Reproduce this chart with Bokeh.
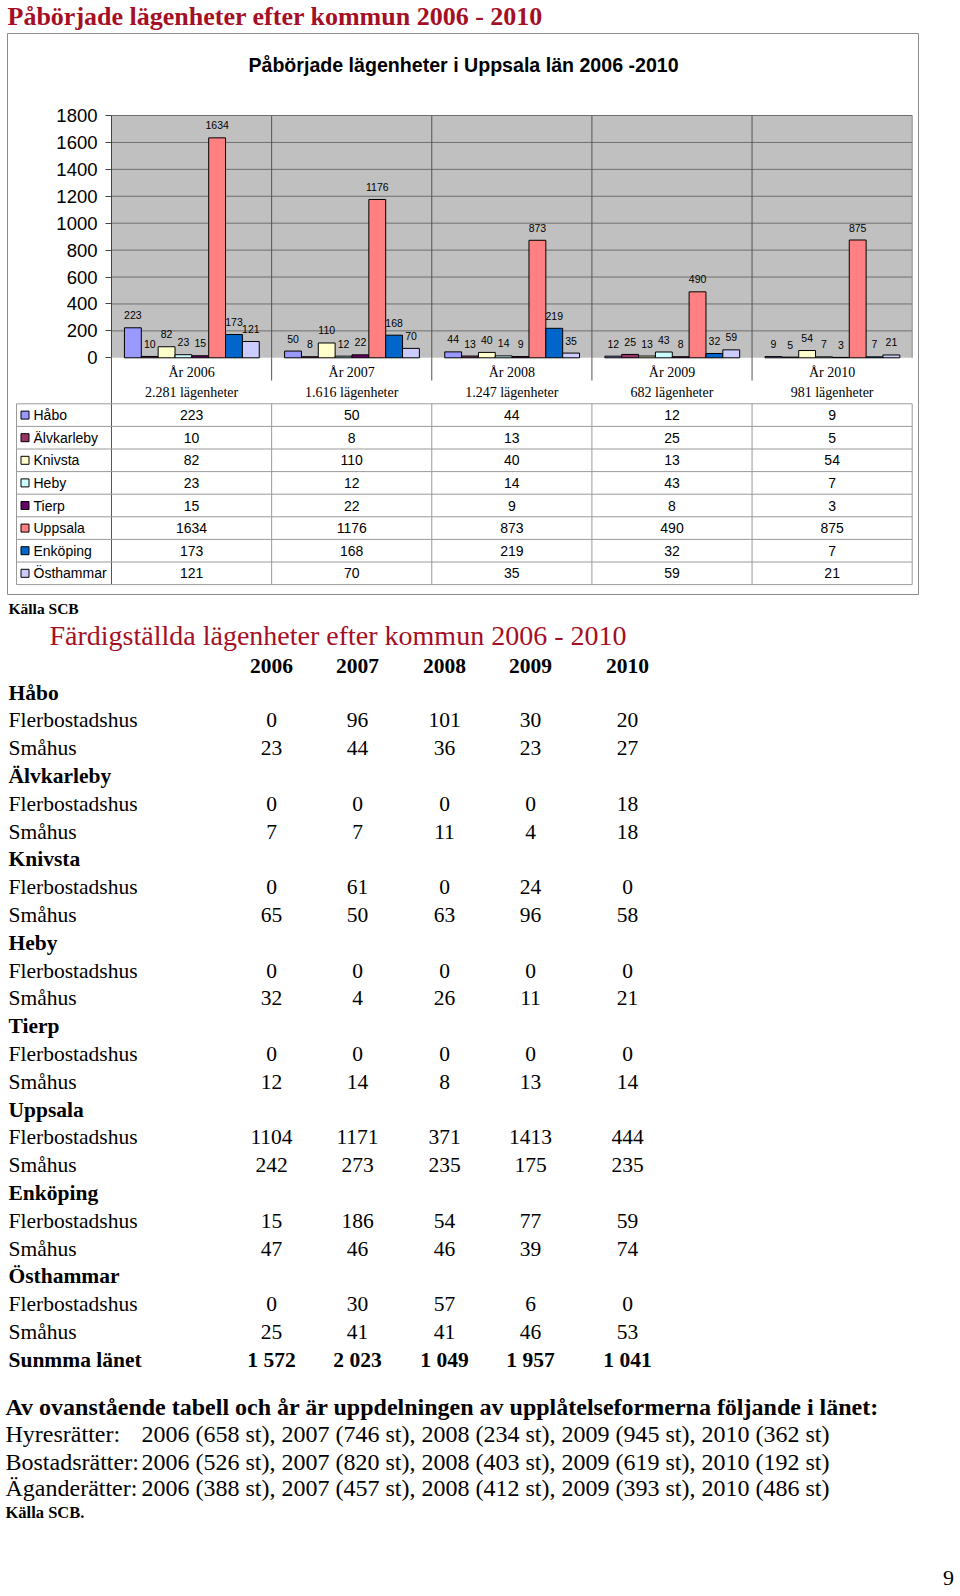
from bokeh.plotting import figure
from bokeh.models import Range1d, LinearAxis, FixedTicker, ColumnDataSource
from bokeh.core.properties import value
from bokeh.embed import file_html
from bokeh.resources import INLINE

# ---------------- data ----------------
years = [2006, 2007, 2008, 2009, 2010]
year_labels = ["År 2006", "År 2007", "År 2008", "År 2009", "År 2010"]
started_totals = [2281, 1616, 1247, 682, 981]
municipalities = ["Håbo", "Älvkarleby", "Knivsta", "Heby", "Tierp", "Uppsala", "Enköping", "Östhammar"]
started_habo = [223, 50, 44, 12, 9]
started_alvkarleby = [10, 8, 13, 25, 5]
started_knivsta = [82, 110, 40, 13, 54]
started_heby = [23, 12, 14, 43, 7]
started_tierp = [15, 22, 9, 8, 3]
started_uppsala = [1634, 1176, 873, 490, 875]
started_enkoping = [173, 168, 219, 32, 7]
started_osthammar = [121, 70, 35, 59, 21]
started = [started_habo, started_alvkarleby, started_knivsta, started_heby,
           started_tierp, started_uppsala, started_enkoping, started_osthammar]
y_ticks = [0, 200, 400, 600, 800, 1000, 1200, 1400, 1600, 1800]

completed_flerbostadshus = [
    [0, 96, 101, 30, 20],
    [0, 0, 0, 0, 18],
    [0, 61, 0, 24, 0],
    [0, 0, 0, 0, 0],
    [0, 0, 0, 0, 0],
    [1104, 1171, 371, 1413, 444],
    [15, 186, 54, 77, 59],
    [0, 30, 57, 6, 0],
]
completed_smahus = [
    [23, 44, 36, 23, 27],
    [7, 7, 11, 4, 18],
    [65, 50, 63, 96, 58],
    [32, 4, 26, 11, 21],
    [12, 14, 8, 13, 14],
    [242, 273, 235, 175, 235],
    [47, 46, 46, 39, 74],
    [25, 41, 41, 46, 53],
]
completed_sum = [1572, 2023, 1049, 1957, 1041]

hyresratter = [658, 746, 234, 945, 362]
bostadsratter = [526, 820, 403, 619, 192]
aganderatter = [388, 457, 412, 393, 486]

# ---------------- styles / layout ----------------
colors = ["#9999FF", "#993366", "#FFFFCC", "#CCFFFF", "#660066", "#FF8080", "#0066CC", "#CCCCFF"]
RED = "#A50F25"
SANS = "Liberation Sans"
SERIF = "Liberation Serif"
W, H = 960, 1596

PX_LEFT = 111.0     # pixel x of category 0 edge
GW = 160.14         # pixel width of one category
BASE = 357.3        # pixel y of value 0
VS = 242.3 / 1800   # pixels per unit
GAP = 12.95
BW = 16.85

p = figure(width=W, height=H, x_range=Range1d(0, W), y_range=Range1d(H, 0),
           output_backend="svg", toolbar_location=None, min_border=0,
           x_axis_type=None, y_axis_type=None)
p.outline_line_color = None
p.background_fill_color = "white"
p.border_fill_color = "white"
p.extra_x_ranges = {"grp": Range1d(start=(0 - PX_LEFT) / GW, end=(W - PX_LEFT) / GW)}
p.extra_y_ranges = {"val": Range1d(start=(BASE - H) / VS, end=(BASE - 0) / VS)}


def txt(xs, ys, texts, size, font=SANS, style="normal", align="left",
        baseline="middle", color="black", **kw):
    p.text(x=xs, y=ys, text=texts, text_font=value(font), text_font_size=value(size),
           text_font_style=style, text_align=align, text_baseline=baseline,
           text_color=color, **kw)


ncat = len(years)
vmax = y_ticks[-1]

# page title
txt([7], [16], ["Påbörjade lägenheter efter kommun 2006 - 2010"], "26px", font=SERIF,
    style="bold", color=RED)

# chart box
T_TOP = 403.3
RH = 22.6
T_BOT = T_TOP + RH * len(municipalities)
p.quad(left=[7], right=[918], top=[33], bottom=[594], fill_color=None,
       line_color="#8c8c8c", line_width=1)
txt([463], [64], ["Påbörjade lägenheter i Uppsala län 2006 -2010"], "19.6px", style="bold",
    align="center")

# plot area
p.quad(left=[0], right=[ncat], bottom=[0], top=[vmax], x_range_name="grp", y_range_name="val",
       fill_color="#C0C0C0", line_color=None)
p.segment(x0=[0] * (len(y_ticks) - 1), x1=[ncat] * (len(y_ticks) - 1), y0=y_ticks[1:],
          y1=y_ticks[1:], x_range_name="grp", y_range_name="val", line_color="#6e6e6e",
          line_width=1)
p.segment(x0=[ncat], x1=[ncat], y0=[0], y1=[vmax], x_range_name="grp", y_range_name="val",
          line_color="#8c8c8c", line_width=1)
divs = list(range(1, ncat))
p.segment(x0=divs, x1=divs, y0=[0] * len(divs), y1=[vmax] * len(divs), x_range_name="grp",
          y_range_name="val", line_color="#555555", line_width=1)
p.segment(x0=divs, x1=divs, y0=[BASE] * len(divs), y1=[380] * len(divs), x_range_name="grp",
          line_color="#555555", line_width=1)
p.segment(x0=[0], x1=[0], y0=[BASE], y1=[T_BOT], x_range_name="grp", line_color="#555555",
          line_width=1)

# bars
for s, (name, vals) in enumerate(zip(municipalities, started)):
    xs = [g + (GAP + (s + 0.5) * BW) / GW for g in range(ncat)]
    src = ColumnDataSource(dict(x=xs, top=vals, lab=[str(v) for v in vals]))
    p.vbar(x="x", top="top", bottom=0, width=BW / GW, source=src, x_range_name="grp",
           y_range_name="val", fill_color=colors[s], line_color="black", line_width=1)
    p.text(x="x", y="top", text="lab", source=src, x_range_name="grp", y_range_name="val",
           text_font=value(SANS), text_font_size=value("10.5px"), text_align="center",
           text_baseline="middle", y_offset=-12.5, text_color="black")

# y axis
yaxis = LinearAxis(y_range_name="val", fixed_location=PX_LEFT, ticker=FixedTicker(ticks=y_ticks),
                   bounds=(0, vmax))
yaxis.major_label_text_font = SANS
yaxis.major_label_text_font_size = "18.5px"
yaxis.major_label_text_color = "black"
yaxis.major_tick_out = 6
yaxis.major_tick_in = 0
yaxis.minor_tick_out = 0
yaxis.minor_tick_in = 0
yaxis.axis_line_color = "#444444"
yaxis.major_tick_line_color = "#444444"
yaxis.major_label_standoff = 8
p.add_layout(yaxis, "left")

# category labels
cx = [g + 0.5 for g in range(ncat)]
txt(cx, [371.7] * ncat, year_labels, "14px", font=SERIF, align="center", x_range_name="grp")
tot_labels = [f"{t:,}".replace(",", ".") + " lägenheter" for t in started_totals]
txt(cx, [391.7] * ncat, tot_labels, "14px", font=SERIF, align="center", x_range_name="grp")

# data table
rows_y = [T_TOP + RH * i for i in range(len(municipalities) + 1)]
p.segment(x0=[16] * len(rows_y), x1=[PX_LEFT + GW * ncat] * len(rows_y), y0=rows_y, y1=rows_y,
          line_color="#9a9a9a", line_width=1)
vx = [16] + [PX_LEFT + GW * g for g in range(1, ncat + 1)]
p.segment(x0=vx, x1=vx, y0=[T_TOP] * len(vx), y1=[T_BOT] * len(vx), line_color="#9a9a9a",
          line_width=1)
rc = [T_TOP + RH * (i + 0.5) for i in range(len(municipalities))]
p.scatter(x=[24.5] * len(municipalities), y=rc, marker="square", size=8, fill_color=colors,
          line_color="black", line_width=1)
txt([33] * len(municipalities), rc, municipalities, "14px")
for s, vals in enumerate(started):
    txt(cx, [rc[s]] * ncat, [str(v) for v in vals], "14px", align="center", x_range_name="grp")

# ---------------- completed table ----------------
txt([8], [608], ["Källa SCB"], "15.5px", font=SERIF, style="bold")
txt([49], [635], ["Färdigställda lägenheter efter kommun 2006 - 2010"], "28px", font=SERIF,
    color=RED)
COLX = [271, 357, 444, 530, 627]
txt(COLX, [665] * ncat, [str(y) for y in years], "21.5px", font=SERIF, style="bold", align="center")
LY0 = 692
LRH = 27.8
for i, m in enumerate(municipalities):
    y0 = LY0 + LRH * 3 * i
    txt([8], [y0], [m], "21.5px", font=SERIF, style="bold")
    txt([8], [y0 + LRH], ["Flerbostadshus"], "21.5px", font=SERIF)
    txt(COLX, [y0 + LRH] * ncat, [str(v) for v in completed_flerbostadshus[i]], "21.5px",
        font=SERIF, align="center")
    txt([8], [y0 + 2 * LRH], ["Småhus"], "21.5px", font=SERIF)
    txt(COLX, [y0 + 2 * LRH] * ncat, [str(v) for v in completed_smahus[i]], "21.5px",
        font=SERIF, align="center")
ys = LY0 + LRH * 3 * len(municipalities)
txt([8], [ys], ["Sunmma länet"], "21.5px", font=SERIF, style="bold")
txt(COLX, [ys] * ncat, [f"{v:,}".replace(",", " ") for v in completed_sum], "21.5px",
    font=SERIF, style="bold", align="center")

# ---------------- tenure forms ----------------
txt([5], [1406], ["Av ovanstående tabell och år är uppdelningen av upplåtelseformerna följande i länet:"],
    "24px", font=SERIF, style="bold")


def tenure_line(vals):
    return ", ".join(f"{y} ({v} st)" for y, v in zip(years, vals))


tl_y = [1433, 1461, 1487]
txt([5] * 3, tl_y, ["Hyresrätter:", "Bostadsrätter:", "Äganderätter:"], "24px", font=SERIF)
txt([141] * 3, tl_y, [tenure_line(hyresratter), tenure_line(bostadsratter), tenure_line(aganderatter)],
    "24px", font=SERIF)
txt([5], [1512], ["Källa SCB."], "16.5px", font=SERIF, style="bold")
txt([948], [1577], ["9"], "22px", font=SERIF, align="center")

open("out.html", "w").write(file_html(p, INLINE))
